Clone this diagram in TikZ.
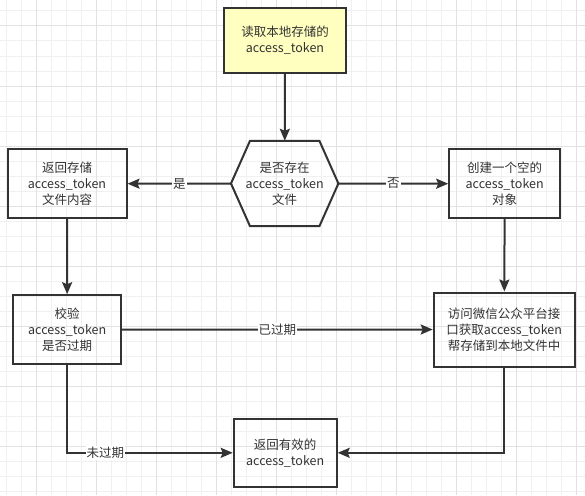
\documentclass[tikz,border=0pt]{standalone}
\usepackage{fontspec}
\setmainfont{Noto Sans CJK SC}
\usepackage{tikz}
\usetikzlibrary{arrows.meta,positioning,calc}
\definecolor{linegray}{HTML}{333333}
\definecolor{notefill}{HTML}{FFFFC0}
\definecolor{gridminor}{HTML}{F0F0F0}
\definecolor{gridmajor}{HTML}{E2E2E2}

\begin{document}
\begin{tikzpicture}[
x=1pt, y=-1pt,
font=\fontsize{12.5}{16}\selectfont,
stepnode/.style={rectangle, draw=linegray, line width=2pt, text=linegray, align=center, inner sep=0pt},
hexnode/.style={rectangle, draw=none, text=linegray, align=center, inner sep=0pt},
flow/.style={draw=linegray, line width=2pt, -{Stealth[length=12pt, width=10pt, inset=2pt]}},
edgelabel/.style={fill=white, text=linegray, inner sep=1pt},
]
\useasboundingbox (0,0) rectangle (585,495);
\fill[white] (0,0) rectangle (585,495);
% grid
\foreach \gx in {6.5,21.5,...,585} \draw[gridminor, line width=1pt] (\gx,0) -- (\gx,495);
\foreach \gy in {11,26,...,495} \draw[gridminor, line width=1pt] (0,\gy) -- (585,\gy);
\foreach \gx in {36.5,96.5,...,585} \draw[gridmajor, line width=1pt] (\gx,0) -- (\gx,495);
\foreach \gy in {26,86,...,495} \draw[gridmajor, line width=1pt] (0,\gy) -- (585,\gy);

\node[stepnode, fill=notefill, minimum width=122, minimum height=65] (read) at (285,40.5) {读取本地存储的\\access\_token};
\node[hexnode, minimum width=107, minimum height=85] (exists) at (284.7,183.5) {是否存在\\access\_token\\文件};
\draw[linegray, line width=2pt, line join=miter] (exists.west) -- ($(exists.north west)+(19,0)$) -- ($(exists.north east)+(-19,0)$)
  -- (exists.east) -- ($(exists.south east)+(-19,0)$) -- ($(exists.south west)+(19,0)$) -- cycle;
\node[stepnode, minimum width=119, minimum height=69] (stored) at (67,183.7) {返回存储\\access\_token\\文件内容};
\node[stepnode, minimum width=111, minimum height=69] (create) at (504.7,183.7) {创建一个空的\\access\_token\\对象};
\node[stepnode, minimum width=108, minimum height=69] (verify) at (67.2,329.7) {校验\\access\_token\\是否过期};
\node[stepnode, minimum width=141, minimum height=74] (fetch) at (504.2,329.5) {访问微信公众平台接\\口获取access\_token\\帮存储到本地文件中};
\node[stepnode, minimum width=103, minimum height=68] (valid) at (285.2,452.8) {返回有效的\\access\_token};

\draw[flow] (read) -- (exists);
\draw[flow] (exists.west) -- node[edgelabel] {是} (stored.east);
\draw[flow] (exists.east) -- node[edgelabel] {否} (create.west);
\draw[flow] (stored) -- (verify);
\draw[flow] (create) -- (fetch);
\draw[flow] (verify.east) -- node[edgelabel] {已过期} (fetch.west);
\draw[flow] (verify.south) |- node[edgelabel, pos=0.615] {未过期} (valid.west);
\draw[flow] (fetch.south) |- (valid.east);

\end{tikzpicture}
\end{document}
